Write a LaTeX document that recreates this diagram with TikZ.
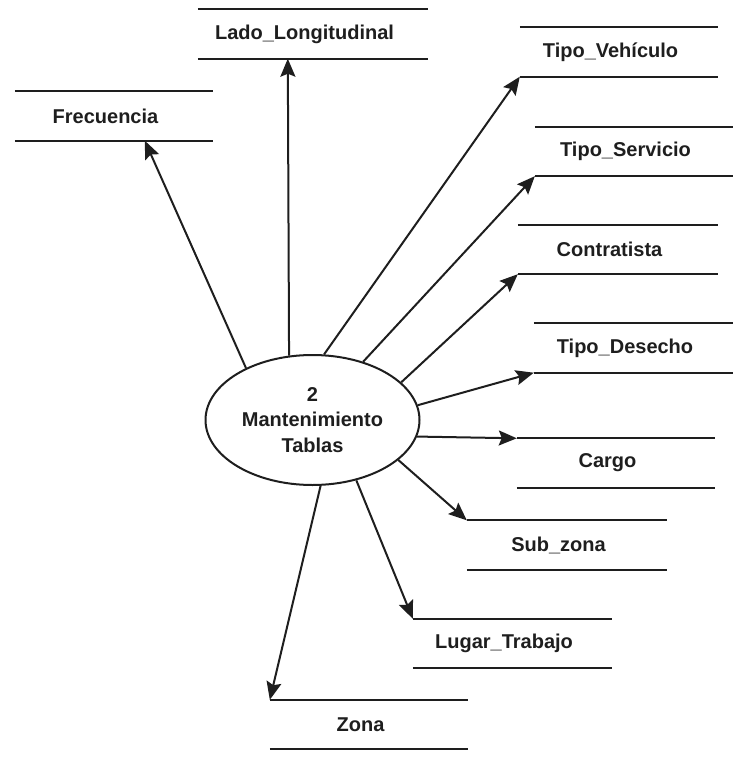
\documentclass[tikz,border=0pt]{standalone}
\usepackage{fontspec}
\setmainfont{Liberation Sans}
\usetikzlibrary{arrows.meta,shapes.geometric}
\definecolor{ink}{HTML}{1E1E1E}
\newcommand\storelabel[1]{#1\hspace*{17pt}}
\tikzset{
  every node/.style={text=ink, font=\bfseries\fontsize{20}{25.5}\selectfont},
  process/.style={draw=ink, line width=2pt, ellipse, inner sep=0pt,
    minimum width=214pt, minimum height=130pt, align=center},
  datastore/.style={rectangle, inner sep=0pt, minimum height=49pt},
  storeline/.style={draw=ink, line width=2pt},
  flow/.style={draw=ink, line width=2pt,
    -{Stealth[length=18pt, width=15pt, inset=3pt]}}
}
\begin{document}
\begin{tikzpicture}[x=1pt, y=-1pt]
\useasboundingbox (0,0) rectangle (741,757);

% central process
\node[process] (proc) at (312.5,420) {2\\Mantenimiento\\Tablas};

% data stores
\node[datastore, minimum width=230pt] (lado)  at (313,34)    {\storelabel{Lado\_Longitudinal}};
\node[datastore, minimum width=198pt] (frec)  at (114,116)   {\storelabel{Frecuencia}};
\node[datastore, minimum width=198pt] (vehic) at (619,52)    {\storelabel{Tipo\_Vehículo}};
\node[datastore, minimum width=198pt] (serv)  at (634,151.5) {\storelabel{Tipo\_Servicio}};
\node[datastore, minimum width=200pt] (contr) at (618,249.5) {\storelabel{Contratista}};
\node[datastore, minimum width=199pt] (dese)  at (633.5,348) {\storelabel{Tipo\_Desecho}};
\node[datastore, minimum width=198pt] (cargo) at (616,463)   {\storelabel{Cargo}};
\node[datastore, minimum width=200pt] (sub)   at (567,545)   {\storelabel{Sub\_zona}};
\node[datastore, minimum width=199pt] (lugar) at (512.5,643.5) {\storelabel{Lugar\_Trabajo}};
\node[datastore, minimum width=198pt] (zona)  at (369,724.5) {\storelabel{Zona}};

\foreach \s in {lado,frec,vehic,serv,contr,dese,cargo,sub,lugar,zona}{
  \draw[storeline] (\s.north west) -- (\s.north east);
  \draw[storeline] (\s.south west) -- (\s.south east);
}

% data flows out of the process
\draw[flow] (proc.142.4) -- ([xshift=130pt]frec.south west);
\draw[flow] (proc.110.2) -- ([xshift=90pt]lado.south west);
\draw[flow] (proc.80.8)  -- (vehic.south west);
\draw[flow] (proc.49)    -- (serv.south west);
\draw[flow] (proc.23.5)  -- (contr.south west);
\draw[flow] (proc.8.5)   -- (dese.south west);
\draw[flow] (proc.-9.4)  -- (cargo.north west);
\draw[flow] (proc.-25.1) -- (sub.north west);
\draw[flow] (proc.-54.2) -- (lugar.north west);
\draw[flow] (proc.-83.7) -- (zona.north west);
\end{tikzpicture}
\end{document}
